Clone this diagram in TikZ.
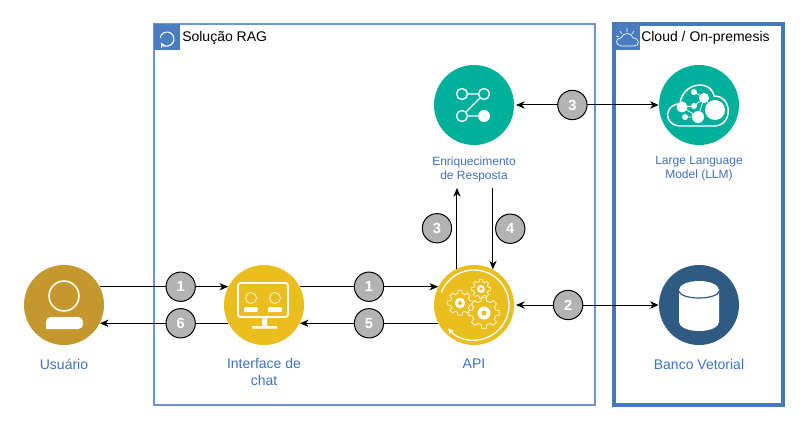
\documentclass[tikz,border=0pt]{standalone}
\usepackage{fontspec}
\usetikzlibrary{arrows.meta}
\setmainfont{Liberation Sans}
\definecolor{ragline}{HTML}{6C93CF}
\definecolor{cloudline}{HTML}{4577BB}
\definecolor{headblue}{HTML}{4A7CC0}
\definecolor{labelblue}{HTML}{3F72B8}
\definecolor{tealc}{HTML}{00B09B}
\definecolor{yellowc}{HTML}{E9BE1E}
\definecolor{goldc}{HTML}{C4982E}
\definecolor{navyc}{HTML}{2F5B82}
\definecolor{badgegray}{HTML}{B3B3B3}
\tikzset{
  service/.style={circle,inner sep=0pt,minimum size=60pt},
  badge/.style={circle,draw=black,line width=.75pt,fill=badgegray,inner sep=0pt,
    minimum size=22pt,text=white,font=\fontsize{11}{12}\selectfont\bfseries},
  caption/.style={text=labelblue,align=center,inner sep=0pt,font=\fontsize{10.5}{12.7}\selectfont},
  smallcaption/.style={caption,font=\fontsize{9}{10.5}\selectfont},
  boxtitle/.style={anchor=west,inner sep=0pt,font=\fontsize{10.5}{12}\selectfont},
  head/.style={fill=headblue,inner sep=0pt,minimum size=19.5pt},
  link/.style={line width=.75pt,>={Stealth[length=6.5pt,width=5.5pt,inset=2pt]}},
  iconline/.style={draw=white,line width=1pt},
}
\newcommand{\drawgear}[3]{
  \draw[iconline,line width=.5pt,fill=yellowc] (-14:#3*.78)+(#1,#2)
    \foreach \a in {0,45,...,315}{
      -- ([shift={(#1,#2)}]\a-14:#3*.78) -- ([shift={(#1,#2)}]\a-9:#3)
      -- ([shift={(#1,#2)}]\a+9:#3) -- ([shift={(#1,#2)}]\a+14:#3*.78)} -- cycle;
  \fill[white] (#1,#2) circle (#3*.42);
  \fill[yellowc] (#1,#2) circle (#3*.16);
}
\begin{document}
\begin{tikzpicture}[x=.75pt,y=-.75pt]
  \useasboundingbox (0,0) rectangle (810,431);
  \node[draw=ragline,line width=1.5pt,minimum width=330.75pt,minimum height=285.75pt,inner sep=0pt] (rag) at (374.5,214.5) {};
  \node[draw=cloudline,line width=2.4pt,minimum width=126.75pt,minimum height=285.75pt,inner sep=0pt] (cloud) at (698.5,214.5) {};
  \node[head] (raghead) at (167,37) {};
  \node[head] (cloudhead) at (627,37) {};
  \node[boxtitle] (ragtitle) at (182,38) {Solução RAG};
  \node[boxtitle] (cloudtitle) at (641,38) {Cloud / On-premesis};

  \node[service,fill=goldc] (user) at (64,305) {};
  \node[service,fill=yellowc] (chat) at (264,305) {};
  \node[service,fill=yellowc] (api) at (474,305) {};
  \node[service,fill=tealc] (enrich) at (474,105) {};
  \node[service,fill=tealc] (llm) at (699,105) {};
  \node[service,fill=navyc] (vector) at (699,305) {};

  \node[caption] (userlabel) at (64,364) {Usuário};
  \node[caption] (chatlabel) at (264,372) {Interface de\\chat};
  \node[caption] (apilabel) at (474,364) {API};
  \node[smallcaption] (enrichlabel) at (474,169) {Enriquecimento\\de Resposta};
  \node[smallcaption] (llmlabel) at (699,169) {Large Language\\Model (LLM)};
  \node[caption] (vectorlabel) at (699,364) {Banco Vetorial};
  \coordinate (enrichfoot) at (474,188);

  \draw[link,->] (user.27) -- (chat.153) node[badge,pos=.63] (b1) {1};
  \draw[link,->] (chat.-153) -- (user.-27) node[badge,pos=.37] (b6) {6};
  \draw[link,->] (chat.27) -- (api.153) node[badge,pos=.5] (b1b) {1};
  \draw[link,->] (api.-153) -- (chat.-27) node[badge,pos=.5] (b5) {5};
  \draw[link,->] (api.115) -- (api.115 |- enrichfoot) node[badge,pos=.5,xshift=-15pt] (b3) {3};
  \draw[link,->] (api.62 |- enrichfoot) -- (api.62) node[badge,pos=.5,xshift=13pt] (b4) {4};
  \draw[link,<->] (api) ++(42,0) coordinate (apiright) (apiright) -- (vector.west) node[badge,pos=.365] (b2) {2};
  \draw[link,<->] (enrich) ++(42,0) coordinate (enrichright) (enrichright) -- (llm.west) node[badge,pos=.395] (b3b) {3};

  % person
  \draw[iconline,line width=1.1pt] (64,296) circle (15);
  \fill[white] (46,329) [rounded corners=3.5pt] -- (46,317) -- (83,317) -- (83,329) [sharp corners] -- cycle;

  % monitor
  \draw[iconline,line width=1.4pt,rounded corners=2pt] (238,283) rectangle (288,317);
  \draw[iconline,line width=.5pt] (251,298) circle (5.5) (275,298) circle (5.5);
  \fill[white] (244,312) [rounded corners=1.5pt] -- (244,307) -- (258,307) -- (258,312) [sharp corners] -- cycle;
  \fill[white] (268,312) [rounded corners=1.5pt] -- (268,307) -- (282,307) -- (282,312) [sharp corners] -- cycle;
  \fill[white] (262,317) rectangle (267,326) (252,326) rectangle (277,328.5);

  % gears and ring
  \draw[iconline,<-,>=stealth] ([shift={(138:35)}]474,305) arc[start angle=138,end angle=-159,radius=35];
  \drawgear{460}{303}{12.5}
  \drawgear{481}{289}{9.5}
  \drawgear{484}{313}{15.5}

  % enrichment graph
  \draw[iconline] (462,94) circle (5.5) (484,94) circle (5.5) (462,116) circle (5.5);
  \fill[white] (484,116) circle (6);
  \draw[iconline] (467.5,94) -- (478.5,94) (467.5,116) -- (478.5,116) (480,98) -- (466,112);

  % llm cloud
  \draw[iconline,line width=1.1pt] (680,126) .. controls (662,125) and (665,103) .. (680,104)
    .. controls (682,82) and (711,79) .. (714,96) .. controls (733,96) and (733,126) .. (714,126) -- cycle;
  \fill[white] (715,110) circle (10) (698,117) circle (6) (682,107) circle (5.5) (685,117) circle (3)
    (694,92) circle (3) (704,98) circle (5) (694,106) circle (3);
  \draw[iconline,line width=.6pt] (682,107) -- (698,117) (685,117) -- (698,117) (694,92) -- (704,98)
    (704,98) -- (694,106) (704,98) -- (698,117) (694,106) -- (682,107) (704,98) -- (715,110);

  % database
  \fill[white] (679,290) arc[start angle=180,end angle=360,x radius=20,y radius=9]
    -- (719,322) arc[start angle=0,end angle=180,x radius=20,y radius=9] -- cycle;
  \draw[navyc,line width=.9pt] (679,291) arc[start angle=180,end angle=0,x radius=20,y radius=7];

  % header icons
  \draw[iconline,line width=.8pt,<-,>=stealth] ([shift={(150:7)}]167,39) arc[start angle=150,end angle=-170,radius=7];
  \draw[iconline,line width=.5pt] (621,46) .. controls (615,45) and (615,38) .. (621,38)
    .. controls (623,32) and (632,32) .. (633,38) .. controls (640,38) and (640,46) .. (634,46) -- cycle;
  \draw[iconline,line width=.5pt] (620,31) -- (622,34) (627,28) -- (627,32) (634,31) -- (632,34) (616,36) -- (619,37);
\end{tikzpicture}
\end{document}
